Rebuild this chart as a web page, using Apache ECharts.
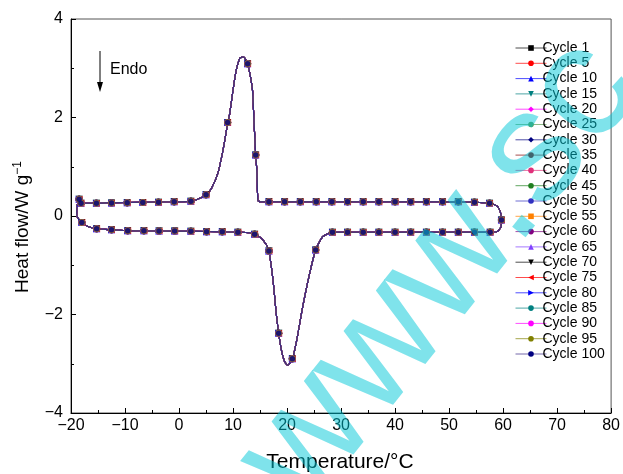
<!DOCTYPE html>
<html>
<head>
<meta charset="utf-8">
<script src="https://cdn.jsdelivr.net/npm/echarts@6/dist/echarts.min.js"></script>
<style>html,body{margin:0;padding:0;background:#fff;}#c{width:623px;height:474px;}</style>
</head>
<body>
<div id="c"></div>
<script>
// Cycle names
var cycles = ['Cycle 1','Cycle 5','Cycle 10','Cycle 15','Cycle 20','Cycle 25','Cycle 30','Cycle 35','Cycle 40','Cycle 45','Cycle 50','Cycle 55','Cycle 60','Cycle 65','Cycle 70','Cycle 75','Cycle 80','Cycle 85','Cycle 90','Cycle 95','Cycle 100'];
// DSC loop (all cycles overlap): temperature (°C) and heat flow (W/g)
var pathT  = [-18.5,-18.85,-18.95,-18.8,-18.0,-17.0,-15.3,-12.5,-9.5,-3.7,2.2,8.0,10.9,13.0,14.0,15.2,16.2,16.65,17.4,18.0,18.45,18.95,19.56,20.17,20.98,21.8,22.9,24.2,25.3,26.6,28.4,31.2,40.0,57.6,59.0,59.6,59.7,59.5,58.9,57.5,54.7,48.8,16.6,15.0,14.6,14.44,14.2,13.9,13.6,13.1,12.7,12.2,11.8,11.24,10.6,10.0,9.4,8.96,8.15,7.2,6.0,5.0,3.85,2.2,-0.9,-6.7,-12.5,-15.3,-18.15,-18.5];
var pathHF = [0.34,0.22,0.08,-0.03,-0.13,-0.21,-0.26,-0.28,-0.30,-0.305,-0.31,-0.32,-0.33,-0.34,-0.37,-0.45,-0.59,-0.71,-1.30,-1.98,-2.38,-2.72,-2.96,-3.03,-2.90,-2.52,-1.84,-1.16,-0.69,-0.42,-0.33,-0.33,-0.33,-0.33,-0.31,-0.22,-0.08,0.08,0.20,0.26,0.28,0.29,0.29,0.29,0.32,0.87,1.24,1.88,2.56,2.90,3.09,3.20,3.23,3.20,2.96,2.56,2.09,1.85,1.34,0.87,0.56,0.43,0.36,0.30,0.29,0.28,0.27,0.26,0.26,0.34];
// Marker positions
var markT  = [-18.5,-18.15,-15.3,-12.5,-9.6,-6.7,-3.8,-0.9,2.2,5.0,9.0,12.7,14.2,16.65,19.55,22.45,25.4,28.3,31.2,34.1,37.0,40.0,42.9,45.8,48.8,51.7,54.7,57.5,59.7,
              -18.0,-15.25,-12.5,-9.5,-6.5,-3.7,-0.8,2.2,5.1,8.0,10.9,14.0,16.65,18.45,20.98,25.3,28.4,31.2,34.1,37.0,40.0,42.9,45.8,48.8,51.7,54.7,57.6];
var markHF = [0.34,0.26,0.26,0.265,0.27,0.275,0.28,0.29,0.30,0.43,1.9,3.09,1.24,0.29,0.29,0.29,0.29,0.29,0.29,0.29,0.29,0.29,0.29,0.29,0.29,0.29,0.28,0.26,-0.08,
              -0.13,-0.26,-0.28,-0.30,-0.30,-0.305,-0.305,-0.31,-0.32,-0.32,-0.33,-0.37,-0.71,-2.38,-2.90,-0.69,-0.33,-0.33,-0.33,-0.33,-0.33,-0.33,-0.33,-0.33,-0.33,-0.33,-0.33];
var xTicks = [-20,-10,0,10,20,30,40,50,60,70,80];
var yTicks = [-4,-2,0,2,4];

var colors = ['#000000','#ff0000','#0000ff','#008080','#ff00ff','#5a9a50','#000080','#800000','#e0307a','#208020','#3030c0','#ff8000','#800080','#8040ff','#000000','#ff0000','#0000ff','#008080','#ff00ff','#808000','#000080'];
var symbols = ['rect','circle','triangle','path://M0,0 L10,0 L5,10 Z','diamond','circle','diamond','circle','circle','circle','circle','rect','circle','triangle','path://M0,0 L10,0 L5,10 Z','path://M10,0 L10,10 L0,5 Z','path://M0,0 L0,10 L10,5 Z','circle','circle','circle','circle'];

var pathData = pathT.map(function(t,i){return [t, pathHF[i]];});
var markData = markT.map(function(t,i){return [t, markHF[i]];});

var series = [];
cycles.forEach(function(name,i){
  series.push({
    name:name, type:'line', data:pathData, smooth:0.2, showSymbol:false,
    symbol:symbols[i], symbolSize:5,
    lineStyle:{color:(i===cycles.length-1?'#3a2a88':colors[i]), width:1.1}, itemStyle:{color:colors[i]},
    z:2, animation:false, silent:true
  });
});
cycles.forEach(function(name,i){
  var last = (i===cycles.length-1);
  series.push({
    name:name, type:'scatter', data:markData, symbol:symbols[i],
    symbolSize:(last?5.5:(symbols[i]==='rect'?5:7)),
    itemStyle:{color:(i===0?'#555':colors[i])},
    z:3, animation:false, silent:true
  });
});

var minus = function(v){ return String(v).replace('-', '\u2212'); };

var chart = echarts.init(document.getElementById('c'), null, {renderer:'canvas'});
chart.setOption({
  animation:false,
  backgroundColor:'#ffffff',
  textStyle:{fontFamily:'Liberation Sans, Arial, sans-serif'},
  grid:{left:71, right:11, top:19, bottom:61, show:true, borderColor:'#555', borderWidth:1},
  xAxis:{type:'value', min:xTicks[0], max:xTicks[xTicks.length-1], interval:10,
    axisLine:{onZero:false, lineStyle:{color:'#000', width:1}},
    axisTick:{inside:true, length:5, lineStyle:{color:'#000'}},
    minorTick:{show:true, splitNumber:2, length:3, lineStyle:{color:'#000'}},
    splitLine:{show:false},
    axisLabel:{margin:5, fontSize:16, color:'#000', formatter:minus}},
  yAxis:{type:'value', min:yTicks[0], max:yTicks[yTicks.length-1], interval:2,
    axisLine:{onZero:false, lineStyle:{color:'#000', width:1}},
    axisTick:{inside:true, length:5, lineStyle:{color:'#000'}},
    minorTick:{show:true, splitNumber:2, length:3, lineStyle:{color:'#000'}},
    splitLine:{show:false},
    axisLabel:{margin:8, fontSize:16, color:'#000', formatter:minus}},
  legend:{
    data:cycles, orient:'vertical', left:510, top:36,
    itemWidth:31, itemHeight:7, itemGap:1.3,
    lineStyle:{width:1, opacity:0.7},
    textStyle:{fontSize:14, color:'#000', padding:[0,0,0,-9]},
    selectedMode:false
  },
  graphic:[
    {type:'line', shape:{x1:100,y1:51,x2:100,y2:84}, style:{stroke:'#000', lineWidth:1}},
    {type:'polygon', shape:{points:[[97,82],[103,82],[100,92]]}, style:{fill:'#000'}},
    {type:'text', left:110, top:62, style:{text:'Endo', fontSize:16, fill:'#000', fontFamily:'Liberation Sans, Arial'}},
    {type:'text', x:340, y:462, style:{text:'Temperature/\u00b0C', fontSize:21, fill:'#000', fontFamily:'Liberation Sans, Arial', align:'center', verticalAlign:'middle'}},
    {type:'text', x:23, y:227, rotation:Math.PI/2,
      style:{text:'{a|Heat flow/W g}{b|\u22121}', align:'center', verticalAlign:'middle', fill:'#000',
        rich:{a:{fontSize:19, fontFamily:'Liberation Sans, Arial', fill:'#000'}, b:{fontSize:12, fontFamily:'Liberation Sans, Arial', fill:'#000', padding:[0,0,11,0]}}}},
    {type:'text', x:272, y:486, rotation:0.9, z:100,
      style:{text:'www.sc', fontSize:160, fill:'#00c8d7', opacity:0.5, fontFamily:'Liberation Sans, Arial', align:'left', verticalAlign:'middle'}}
  ],
  series:series
});
</script>
</body>
</html>
